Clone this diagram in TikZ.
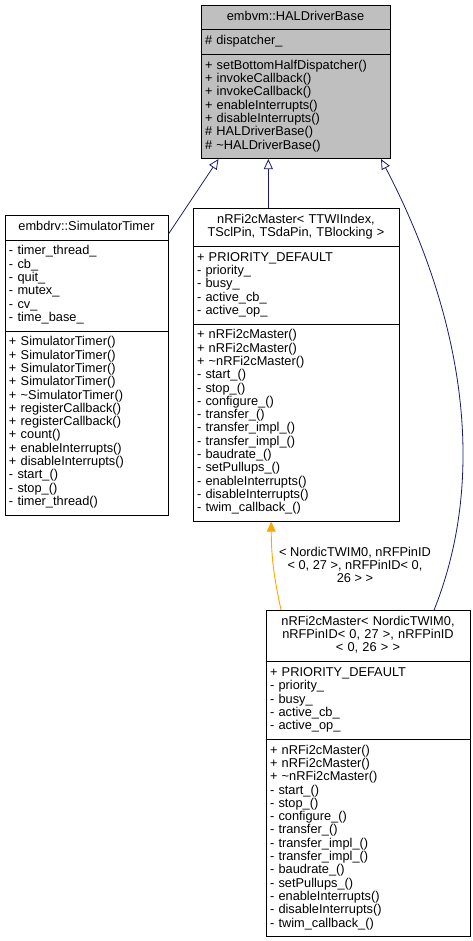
\documentclass[tikz,border=0pt]{standalone}
\usepackage{fontspec}
\setmainfont{Liberation Sans}
\usetikzlibrary{shapes.multipart,arrows.meta}
\definecolor{basegray}{RGB}{191,191,191}
\definecolor{edgeblue}{RGB}{25,25,112}
\definecolor{edgeorange}{RGB}{255,165,0}

\begin{document}
\begin{tikzpicture}[x=1pt,y=-1pt]
	\tikzstyle{class} = [draw=black, line width=0.8pt, rectangle split, rectangle split parts=3, align=left, inner xsep=4pt, inner ysep=5.2pt, font=\fontsize{12.8}{13.3}\selectfont]
	\tikzstyle{inherit} = [draw=edgeblue, line width=0.8pt, -{Triangle[open, length=10pt, width=9pt]}]
	\tikzstyle{instance} = [draw=edgeorange, line width=0.9pt, -{Triangle[length=10pt, width=9pt, fill=edgeorange]}]
	\useasboundingbox (0,0) rectangle (473,941);

		\node[class, fill=basegray, text width=181pt, anchor=north] (base) at (295.5,5) {\centering\strut embvm::HALDriverBase\strut\par
			\nodepart{two} \strut\# dispatcher\_\strut
			\nodepart{three} \strut+ setBottomHalfDispatcher()\\
			+ invokeCallback()\\
			+ invokeCallback()\\
			+ enableInterrupts()\\
			+ disableInterrupts()\\
			\# HALDriverBase()\\
			\# \textasciitilde HALDriverBase()\strut};
		\node[class, text width=155pt, anchor=north] (sim) at (86.5,215) {\centering\strut embdrv::SimulatorTimer\strut\par
			\nodepart{two} \strut- timer\_thread\_\\
			- cb\_\\
			- quit\_\\
			- mutex\_\\
			- cv\_\\
			- time\_base\_\strut
			\nodepart{three} \strut+ SimulatorTimer()\\
			+ SimulatorTimer()\\
			+ SimulatorTimer()\\
			+ SimulatorTimer()\\
			+ \textasciitilde SimulatorTimer()\\
			+ registerCallback()\\
			+ registerCallback()\\
			+ count()\\
			+ enableInterrupts()\\
			+ disableInterrupts()\\
			- start\_()\\
			- stop\_()\\
			- timer\_thread()\strut};
		\node[class, text width=198pt, anchor=north] (master) at (296,208) {\centering\strut nRFi2cMaster< TTWIIndex,\\ TSclPin, TSdaPin, TBlocking >\strut\par
			\nodepart{two} \strut+ PRIORITY\_DEFAULT\\
			- priority\_\\
			- busy\_\\
			- active\_cb\_\\
			- active\_op\_\strut
			\nodepart{three} \strut+ nRFi2cMaster()\\
			+ nRFi2cMaster()\\
			+ \textasciitilde nRFi2cMaster()\\
			- start\_()\\
			- stop\_()\\
			- configure\_()\\
			- transfer\_()\\
			- transfer\_impl\_()\\
			- transfer\_impl\_()\\
			- baudrate\_()\\
			- setPullups\_()\\
			- enableInterrupts()\\
			- disableInterrupts()\\
			- twim\_callback\_()\strut};
		\node[class, text width=196pt, anchor=north] (nordic) at (368,610) {\centering\strut nRFi2cMaster< NordicTWIM0,\\ nRFPinID< 0, 27 >, nRFPinID\\ < 0, 26 > >\strut\par
			\nodepart{two} \strut+ PRIORITY\_DEFAULT\\
			- priority\_\\
			- busy\_\\
			- active\_cb\_\\
			- active\_op\_\strut
			\nodepart{three} \strut+ nRFi2cMaster()\\
			+ nRFi2cMaster()\\
			+ \textasciitilde nRFi2cMaster()\\
			- start\_()\\
			- stop\_()\\
			- configure\_()\\
			- transfer\_()\\
			- transfer\_impl\_()\\
			- transfer\_impl\_()\\
			- baudrate\_()\\
			- setPullups\_()\\
			- enableInterrupts()\\
			- disableInterrupts()\\
			- twim\_callback\_()\strut};
		\node[font=\fontsize{12.8}{13.3}\selectfont, align=center] (args) at (355,565) {< NordicTWIM0, nRFPinID\\ < 0, 27 >, nRFPinID< 0,\\ 26 > >};
	\draw[inherit] (sim.58) -- (base.-135);
	\draw[inherit] (master.100) -- (master.100 |- base.south);
	\draw[inherit] (nordic.68) .. controls (490,470) and (460,310) .. (base.-42);
	\draw[instance] (nordic.118) to[bend left=6] (master.-99);
	\end{tikzpicture}
\end{document}
